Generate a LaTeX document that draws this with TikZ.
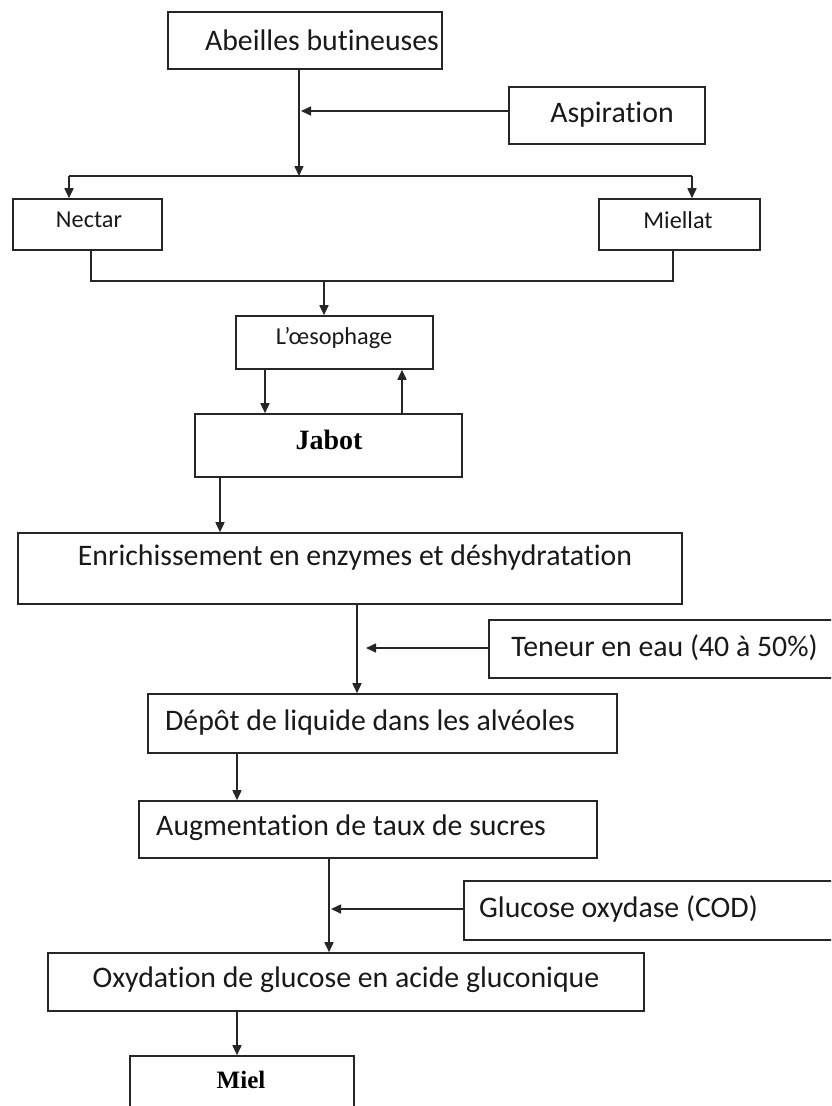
\documentclass[tikz,border=0pt]{standalone}
\usepackage{fontspec}
\setmainfont{Carlito}[Ligatures=CommonOff]
\newfontfamily\serifbold{Liberation Serif}
\usetikzlibrary{arrows.meta}
\tikzset{
  box/.style={draw=black!85, line width=1.6pt, rectangle, inner sep=0pt},
  txt/.style={inner sep=0pt, text=black!90, font=\fontsize{29.8}{31}\selectfont},
  smalltxt/.style={inner sep=0pt, text=black!90, font=\fontsize{24.3}{26}\selectfont},
  sertxt/.style={inner sep=0pt, text=black, font=\serifbold\bfseries\fontsize{28}{30}\selectfont},
  link/.style={draw=black!85, line width=1.6pt},
  arr/.style={link, -{Triangle[length=10pt,width=9pt]}},
}
\begin{document}
\begin{tikzpicture}[x=1pt,y=-1pt]
\clip (0,0) rectangle (831,1106);
\fill[white] (0,0) rectangle (831,1106);
% boxes
\node[box, minimum width=274, minimum height=57] (abeilles) at (305,40.5) {};
\node[box, minimum width=196, minimum height=57] (aspiration) at (607,115.5) {};
\node[box, minimum width=149, minimum height=51] (nectar) at (87.5,224.5) {};
\node[box, minimum width=161, minimum height=51] (miellat) at (679.5,224.5) {};
\node[box, minimum width=197, minimum height=53] (oeso) at (334.5,342.5) {};
\node[box, minimum width=267, minimum height=63] (jabot) at (328.5,445.5) {};
\node[box, minimum width=664, minimum height=71] (enrich) at (350,568.5) {};
\node[box, minimum width=380, minimum height=58] (teneur) at (679,649) {};
\node[box, minimum width=469, minimum height=59] (depot) at (382.5,723.5) {};
\node[box, minimum width=458, minimum height=57] (augment) at (368,829.5) {};
\node[box, minimum width=380, minimum height=59] (glucose) at (654,910.5) {};
\node[box, minimum width=596, minimum height=58] (oxyd) at (346,982) {};
\node[box, minimum width=224, minimum height=70] (miel) at (242,1091) {};
% texts
\node[txt] (t-abeilles) at (322,40) {Abeilles butineuses};
\node[txt] (t-aspiration) at (612,115) {Aspiration};
\node[smalltxt] (t-nectar) at (89,220) {Nectar};
\node[smalltxt] (t-miellat) at (678,220) {Miellat};
\node[smalltxt] (t-oeso) at (334,338) {L’œsophage};
\node[sertxt] (t-jabot) at (329,440) {Jabot};
\node[txt] (t-enrich) at (355,558) {Enrichissement en enzymes et déshydratation};
\node[txt] (t-teneur) at (664.5,648) {Teneur en eau (40 à 50\%)};
\node[txt] (t-depot) at (370,723) {Dépôt de liquide dans les alvéoles};
\node[txt] (t-augment) at (351,828) {Augmentation de taux de sucres};
\node[txt] (t-glucose) at (618.5,909) {Glucose oxydase (COD)};
\node[txt] (t-oxyd) at (346,980) {Oxydation de glucose en acide gluconique};
\node[sertxt, font=\serifbold\bfseries\fontsize{25}{27}\selectfont] (t-miel) at (241,1080) {Miel};
% junction coordinates
\coordinate (split) at (299,176);
\coordinate (splitL) at (69,176);
\coordinate (splitR) at (692,176);
\coordinate (inAsp) at (301,111);
\coordinate (mergeL) at (91,281);
\coordinate (mergeR) at (673,281);
\coordinate (mergeC) at (324,281);
\coordinate (inTen) at (366,648);
\coordinate (inGlu) at (331,909);
% connectors
\draw[arr] (abeilles.south -| split) -- (split);
\draw[arr] (aspiration.west |- inAsp) -- (inAsp);
\draw[link] (splitL) -- (splitR);
\draw[arr] (splitL) -- (nectar.north -| splitL);
\draw[arr] (splitR) -- (miellat.north -| splitR);
\draw[link] (nectar.south -| mergeL) -- (mergeL) -- (mergeR) -- (miellat.south -| mergeR);
\draw[arr] (mergeC) -- (oeso.north -| mergeC);
\draw[arr] (oeso.south -| 265,0) -- (jabot.north -| 265,0);
\draw[arr] (jabot.north -| 402,0) -- (oeso.south -| 402,0);
\draw[arr] (jabot.south -| 220,0) -- (enrich.north -| 220,0);
\draw[arr] (enrich.south -| 357,0) -- (depot.north -| 357,0);
\draw[arr] (teneur.west |- inTen) -- (inTen);
\draw[arr] (depot.south -| 237,0) -- (augment.north -| 237,0);
\draw[arr] (augment.south -| 329,0) -- (oxyd.north -| 329,0);
\draw[arr] (glucose.west |- inGlu) -- (inGlu);
\draw[arr] (oxyd.south -| 237,0) -- (miel.north -| 237,0);
\end{tikzpicture}
\end{document}
